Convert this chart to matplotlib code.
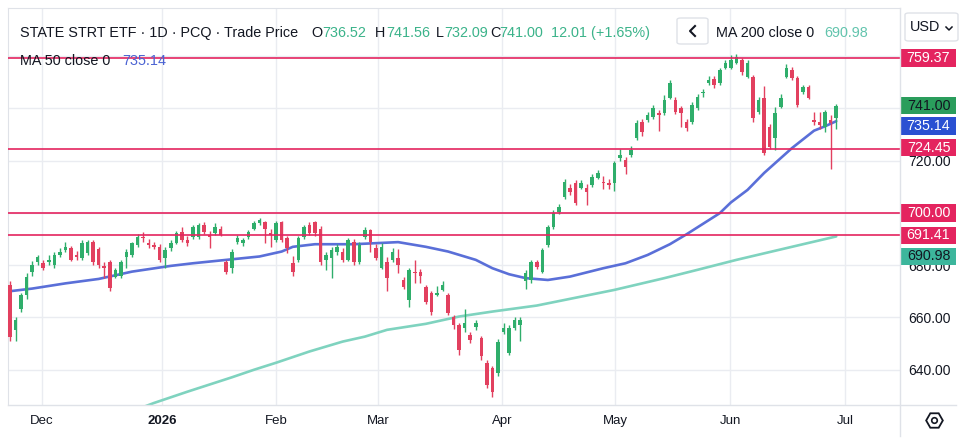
import numpy as np
import matplotlib
matplotlib.use("Agg")
import matplotlib.pyplot as plt
import matplotlib.transforms as mtransforms
from matplotlib.lines import Line2D
from matplotlib.patches import Rectangle, FancyBboxPatch

# Daily candles (bar index 0 = first visible bar)
opens = [
    672.4, 655.0, 663.0, 668.6, 677.4, 681.0, 680.8, 681.0, 680.0, 684.0,
    685.8, 686.6, 684.0, 682.8, 684.7, 689.0, 686.0, 679.3, 681.0, 675.5,
    676.0, 683.0, 684.0, 687.7, 690.8, 688.5, 687.7, 687.0, 682.8, 686.6,
    688.5, 692.7, 689.7, 690.8, 690.8, 695.4, 691.6, 692.3, 694.0, 681.0,
    679.0, 688.9, 688.5, 690.8, 694.0, 696.0, 696.5, 692.3, 689.7, 696.5,
    690.4, 680.8, 682.0, 690.8, 695.4, 696.5, 694.0, 682.0, 682.8, 685.0,
    685.0, 682.0, 689.0, 681.0, 690.8, 693.5, 686.6, 679.0, 681.0, 682.0,
    682.8, 674.3, 666.7, 677.0, 677.4, 671.6, 669.3, 668.6, 670.5, 668.6,
    660.0, 657.0, 656.0, 653.3, 656.3, 652.0, 642.5, 640.6, 638.7, 654.4,
    646.4, 656.0, 657.0, 674.0, 674.3, 681.0, 677.4, 687.7, 694.6, 700.4,
    706.0, 709.6, 711.5, 709.6, 709.6, 710.7, 713.4, 712.0, 711.5, 711.5,
    721.0, 720.3, 722.0, 728.7, 734.9, 735.6, 736.8, 738.3, 738.3, 744.0,
    743.3, 740.2, 734.9, 734.9, 740.2, 746.0, 749.8, 751.3, 749.8, 755.6,
    755.6, 757.5, 758.6, 752.0, 752.0, 738.7, 744.0, 733.0, 728.7, 740.6,
    752.0, 754.8, 751.7, 746.4, 748.3, 735.6, 734.9, 733.0, 735.6, 736.52,
]
highs = [
    674.0, 660.0, 669.5, 677.0, 681.5, 684.0, 682.0, 684.0, 685.0, 686.5,
    689.0, 687.5, 685.5, 689.5, 689.5, 689.5, 687.0, 681.0, 682.0, 679.0,
    682.0, 686.0, 689.0, 692.0, 692.5, 690.0, 689.0, 688.0, 687.0, 689.5,
    693.0, 694.5, 691.0, 695.5, 696.0, 696.5, 693.0, 696.0, 695.0, 682.0,
    686.0, 691.5, 690.5, 693.5, 697.0, 698.0, 697.0, 694.0, 697.0, 697.0,
    691.0, 683.5, 691.0, 695.5, 696.5, 697.0, 695.0, 685.0, 687.0, 688.0,
    686.5, 690.5, 690.0, 689.0, 694.5, 694.0, 688.0, 688.5, 683.0, 686.5,
    686.0, 675.5, 679.0, 682.0, 678.5, 672.5, 670.0, 672.0, 674.0, 669.5,
    661.0, 658.0, 663.0, 654.5, 659.0, 653.0, 643.5, 641.5, 651.5, 658.0,
    657.0, 660.0, 660.0, 678.0, 682.0, 682.0, 686.5, 695.5, 701.0, 703.5,
    713.0, 711.0, 712.5, 712.5, 711.0, 715.0, 716.5, 714.0, 713.0, 720.0,
    724.5, 721.5, 725.5, 735.5, 736.0, 738.5, 741.5, 739.5, 745.0, 751.0,
    744.5, 741.0, 736.0, 742.5, 745.5, 747.5, 752.5, 752.5, 755.5, 758.5,
    760.5, 761.0, 759.5, 758.5, 753.0, 744.5, 748.5, 734.0, 740.5, 745.5,
    757.0, 756.0, 752.5, 749.0, 749.0, 738.7, 738.7, 739.5, 737.5, 741.56,
]
lows = [
    651.0, 651.0, 662.0, 667.0, 676.0, 680.0, 678.0, 680.0, 679.0, 683.0,
    685.0, 681.5, 682.0, 682.0, 684.0, 680.0, 679.0, 675.0, 670.0, 675.0,
    675.0, 679.0, 683.0, 687.0, 689.0, 686.5, 686.0, 681.0, 679.0, 685.5,
    688.0, 689.0, 687.5, 690.0, 690.0, 692.0, 686.6, 691.5, 691.0, 676.5,
    677.0, 688.0, 687.5, 690.0, 693.5, 695.5, 688.5, 687.0, 689.0, 689.0,
    684.5, 676.0, 681.0, 690.0, 691.5, 691.0, 680.0, 678.0, 675.0, 684.0,
    681.0, 681.5, 680.0, 680.5, 690.0, 685.0, 682.0, 678.5, 670.0, 681.0,
    677.0, 671.0, 664.0, 673.0, 673.0, 665.0, 661.0, 668.0, 670.0, 661.0,
    655.5, 645.5, 654.5, 650.0, 655.0, 643.5, 633.0, 629.5, 637.5, 653.5,
    645.5, 655.0, 651.0, 671.0, 673.0, 678.5, 677.0, 687.0, 694.0, 699.5,
    705.5, 707.0, 703.0, 709.0, 703.0, 710.0, 713.0, 709.0, 709.0, 708.5,
    720.0, 715.0, 721.5, 728.0, 729.5, 735.0, 736.0, 731.5, 737.5, 743.5,
    738.0, 733.0, 731.5, 734.0, 739.5, 744.5, 749.0, 748.0, 749.0, 755.0,
    755.0, 757.0, 753.0, 751.5, 735.0, 738.0, 722.0, 724.5, 724.0, 740.0,
    751.5, 751.0, 740.5, 745.5, 743.5, 733.5, 732.0, 731.0, 717.0, 732.09,
]
closes = [
    652.5, 659.0, 668.6, 675.5, 680.0, 683.0, 679.0, 682.0, 684.0, 685.0,
    687.0, 682.0, 683.0, 688.5, 689.0, 681.0, 680.0, 679.0, 671.3, 678.0,
    681.0, 685.0, 688.5, 690.8, 690.4, 687.7, 687.0, 682.0, 685.8, 688.5,
    692.3, 689.7, 688.5, 694.6, 695.4, 692.7, 690.8, 694.6, 691.6, 677.4,
    685.0, 690.4, 689.7, 692.7, 696.0, 697.3, 694.0, 691.6, 696.0, 689.7,
    686.6, 677.4, 690.4, 694.6, 692.3, 692.3, 681.0, 684.0, 685.8, 687.0,
    682.0, 689.7, 681.0, 687.7, 693.5, 689.0, 682.8, 687.0, 675.0, 685.0,
    680.0, 671.6, 678.0, 676.8, 676.0, 666.0, 662.0, 669.3, 672.4, 661.7,
    657.0, 647.5, 658.0, 651.3, 658.0, 645.0, 634.0, 631.4, 650.6, 656.0,
    656.0, 659.0, 659.0, 677.0, 681.0, 679.3, 685.8, 694.6, 700.0, 702.3,
    711.9, 708.0, 703.8, 711.5, 708.0, 713.8, 715.3, 711.5, 710.7, 719.0,
    722.0, 717.6, 724.0, 734.5, 731.0, 737.5, 740.2, 737.5, 743.3, 749.8,
    738.7, 738.3, 732.6, 741.4, 744.4, 746.4, 751.0, 749.0, 754.8, 757.5,
    758.6, 759.8, 754.0, 757.5, 736.4, 743.3, 723.0, 725.3, 738.3, 744.0,
    755.6, 751.7, 741.4, 748.3, 744.0, 734.9, 733.7, 738.7, 734.5, 741.00,
]

# moving averages read at a few bars
ma50_bar = [0, 4, 10, 16, 22, 29, 33, 39, 45, 49, 51, 55, 62, 70, 75, 79, 84, 87,
            90, 93, 97, 101, 107, 111, 115, 119, 122, 128, 130, 133, 136, 141, 145, 147, 149]
ma50_val = [670.0, 671.0, 673.0, 674.7, 677.5, 679.7, 680.7, 682.0, 683.3, 685.2, 687.0,
            688.0, 688.0, 688.8, 687.0, 685.2, 682.0, 678.8, 676.5, 675.0, 674.3, 675.6,
            678.8, 680.7, 683.9, 688.0, 691.8, 699.9, 704.0, 708.8, 715.3, 724.8, 731.5,
            733.2, 735.14]
ma200_bar = [24, 26, 32, 40, 44, 48, 54, 60, 64, 68, 75, 81, 87, 95, 109, 118, 124, 131,
             140, 149]
ma200_val = [625.6, 627.2, 631.5, 637.0, 639.9, 642.6, 646.9, 650.7, 652.6, 655.2, 657.5,
             660.3, 662.2, 664.5, 670.5, 675.0, 678.2, 682.0, 686.5, 690.98]

levels = [759.37, 724.45, 700.00, 691.41]

month_labels = ["Dec", "2026", "Feb", "Mar", "Apr", "May", "Jun", "Jul"]
month_bars = [5.8, 27.4, 48.0, 66.4, 88.7, 109.1, 129.9, 150.6]
price_ticks = [640, 660, 680, 700, 720, 740, 760]
# 700, 740 and 760 sit under the price tags, so their labels are not visible
price_tick_labels = ["640.00", "660.00", "680.00", "", "720.00", "", ""]

# price-scale tags: text and where the tag sits
tag_text = ["759.37", "741.00", "735.14", "724.45", "700.00", "691.41", "690.98"]
tag_y = [759.37, 741.0, 733.3, 725.0, 700.0, 691.41, 683.4]

UP = "#2fae6b"
DOWN = "#e2405f"
LEVEL = "#e4245f"
MA50_C = "#5a6fd8"
MA200_C = "#7fd3bf"
TXT = "#131722"
GRID = "#eaecf1"
BORDER = "#dfe2e8"
tag_fill = [LEVEL, "#2a9d5c", "#2a50d2", LEVEL, LEVEL, LEVEL, "#3cb69c"]
tag_fg = ["white", TXT, "white", "white", "white", "white", TXT]

plt.rcParams["font.family"] = ["Liberation Sans", "DejaVu Sans"]

W, H = 974, 446
fig = plt.figure(figsize=(W / 100, H / 100), dpi=100)
fig.patch.set_facecolor("white")


def px(x, y):
    return x / W, 1 - y / H


ax = fig.add_axes([8 / W, 1 - 405 / H, (900 - 8) / W, (405 - 8) / H])

o = np.array(opens)
h = np.array(highs)
l = np.array(lows)
c = np.array(closes)
bars = np.arange(len(o))
cols = np.where(c >= o, UP, DOWN)

ax.vlines(bars, l, h, colors=cols, lw=1.0, zorder=3)
ax.bar(bars, np.maximum(np.abs(c - o), 0.5), bottom=np.minimum(o, c), width=0.64,
       color=cols, linewidth=0, zorder=4)

ax.plot(ma200_bar, ma200_val, color=MA200_C, lw=1.9, zorder=2.6, solid_capstyle="round")
ax.plot(ma50_bar, ma50_val, color=MA50_C, lw=1.9, zorder=2.7, solid_capstyle="round")

for lv in levels:
    ax.axhline(lv, color=LEVEL, lw=1.2, zorder=5)

ax.set_xlim(-0.36, 160.5)
ax.set_ylim(626.4, 778.5)

ax.set_xticks(month_bars)
ax.set_xticklabels(month_labels)
ax.get_xticklabels()[1].set_fontweight("bold")
ax.set_yticks(price_ticks)
ax.set_yticklabels(price_tick_labels)
ax.yaxis.tick_right()
ax.tick_params(axis="x", length=0, pad=7, labelsize=9.5, labelcolor=TXT)
ax.tick_params(axis="y", length=0, pad=5.8, labelsize=10, labelcolor=TXT)
ax.grid(True, color=GRID, lw=1.0)
ax.set_axisbelow(True)
for side in ["right", "bottom"]:
    ax.spines[side].set_visible(False)
for side in ["top", "left"]:
    ax.spines[side].set_color(BORDER)

# panel separators
fig.add_artist(Line2D([900 / W, 900 / W], [1 - 8 / H, 1 - 436 / H], color=BORDER, lw=1.0))
fig.add_artist(Line2D([8 / W, 956 / W], [1 - 405 / H, 1 - 405 / H], color=BORDER, lw=1.0))

# tags on the price scale
mixed = mtransforms.blended_transform_factory(fig.transFigure, ax.transData)
for txt, y, fc, fg in zip(tag_text, tag_y, tag_fill, tag_fg):
    ax.add_patch(Rectangle((901 / W, y - 3.3), 55 / W, 6.6, transform=mixed,
                           facecolor=fc, edgecolor="none", clip_on=False, zorder=10))
    ax.text(928.5 / W, y, txt, transform=mixed, ha="center", va="center",
            color=fg, fontsize=10.3, clip_on=False, zorder=11)

# legend rows
val_green = "#3bb38a"
row1 = [(20, "STATE STRT ETF · 1D · PCQ · Trade Price", TXT),
        (311, "O", TXT), (322, "736.52", val_green),
        (375, "H", TXT), (386, "741.56", val_green),
        (436, "L", TXT), (444, "732.09", val_green),
        (490, "C", TXT), (499, "741.00", val_green),
        (551, "12.01 (+1.65%)", val_green)]
for xp, s, col in row1:
    fig.text(*px(xp, 33), s, color=col, fontsize=10.4, va="center", ha="left")

fig.text(*px(20, 61), "MA 50 close 0", color=TXT, fontsize=10.4, va="center")
fig.text(*px(122, 61), "735.14", color="#4b63d3", fontsize=10.4, va="center")

fig.add_artist(FancyBboxPatch(px(677, 44), 31 / W, 26 / H,
                              boxstyle="round,pad=0,rounding_size=0.004",
                              transform=fig.transFigure, fc="white", ec=BORDER, lw=1.0))
fig.add_artist(Line2D([695 / W, 690 / W, 695 / W], [1 - 26 / H, 1 - 31 / H, 1 - 36 / H],
                      color=TXT, lw=1.5))
fig.text(*px(716, 33), "MA 200 close 0", color=TXT, fontsize=10.4, va="center")
fig.text(*px(824, 33), "690.98", color="#62c4ad", fontsize=10.4, va="center")

# currency selector
fig.add_artist(FancyBboxPatch(px(905, 41), 53 / W, 28 / H,
                              boxstyle="round,pad=0,rounding_size=0.004",
                              transform=fig.transFigure, fc="white", ec=BORDER, lw=1.0))
fig.text(*px(910, 27), "USD", color=TXT, fontsize=10.4, va="center")
fig.add_artist(Line2D([946 / W, 949 / W, 952 / W], [1 - 27 / H, 1 - 30 / H, 1 - 27 / H],
                      color=TXT, lw=1.1))

# settings icon
fig.add_artist(Line2D([934 / W], [1 - 420 / H], marker="H", ms=12, mfc="none",
                      mec=TXT, mew=1.3, ls="none"))
fig.add_artist(Line2D([934 / W], [1 - 420 / H], marker="o", ms=4, mfc="none",
                      mec=TXT, mew=1.2, ls="none"))

fig.savefig("out.png", dpi=100, facecolor="white")
